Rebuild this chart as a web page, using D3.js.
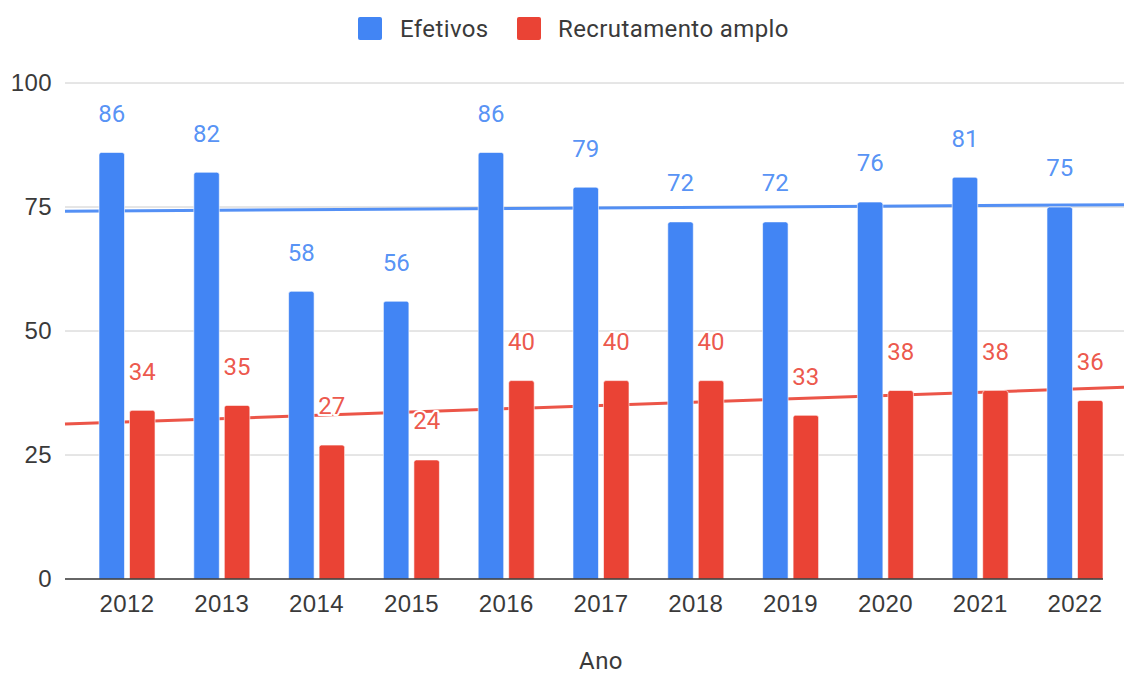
<!DOCTYPE html>
<html>
<head>
<meta charset="utf-8">
<script src="https://cdn.jsdelivr.net/npm/d3@7"></script>
<style>
  html, body { margin: 0; padding: 0; background: #fff; }
  svg { display: block; font-family: Roboto, "Noto Sans", sans-serif; }
  .tick-label { fill: #3a3a3a; font-size: 24px; letter-spacing: 0.4px; }
  .bar-label { font-size: 24px; paint-order: stroke; stroke: #fff; stroke-width: 4px; stroke-linejoin: round; }
</style>
</head>
<body>
<div id="chart"></div>
<script>
// Efetivos vs Recrutamento amplo, por ano
const years = ['2012', '2013', '2014', '2015', '2016', '2017', '2018', '2019', '2020', '2021', '2022'];
const efetivos = [86, 82, 58, 56, 86, 79, 72, 72, 76, 81, 75];
const recrutamento = [34, 35, 27, 24, 40, 40, 40, 33, 38, 38, 36];
const seriesNames = ['Efetivos', 'Recrutamento amplo'];
const seriesColors = ['#4285f4', '#ea4335'];
const yTicks = [0, 25, 50, 75, 100];

const W = 1124, H = 677;
const plotL = 65, plotR = 1124;
const barsL = 99, barsR = 1103;
const yTop = 83, yBottom = 579;

const svg = d3.select('#chart').append('svg')
    .attr('width', W).attr('height', H)
    .attr('viewBox', `0 0 ${W} ${H}`);

const x0 = d3.scaleBand().domain(years).range([barsL, barsR])
    .paddingInner(0.409).paddingOuter(0);
const x1 = d3.scaleBand().domain(seriesNames).range([0, x0.bandwidth()])
    .paddingInner(0.164);
const y = d3.scaleLinear().domain([0, 100]).range([yBottom, yTop]);

// gridlines
svg.append('g').selectAll('line')
    .data(yTicks.filter(t => t > 0))
    .enter().append('line')
    .attr('x1', plotL).attr('x2', plotR)
    .attr('y1', d => y(d)).attr('y2', d => y(d))
    .attr('stroke', '#cccccc').attr('stroke-width', 1);

// y axis labels
const yAxis = svg.append('g')
    .attr('transform', `translate(${plotL},0)`)
    .call(d3.axisLeft(y).tickValues(yTicks).tickSize(0).tickPadding(13));
yAxis.select('.domain').remove();
yAxis.selectAll('text').attr('class', 'tick-label').attr('font-family', null).attr('font-size', null).attr('fill', null);

// trendlines (linear regression on the data)
function trend(vals) {
    const n = vals.length;
    const xs = d3.range(n);
    const mx = d3.mean(xs), my = d3.mean(vals);
    const slope = d3.sum(xs, i => (i - mx) * (vals[i] - my)) / d3.sum(xs, i => (i - mx) * (i - mx));
    return i => my + slope * (i - mx);
}
const idxToPx = d3.scaleLinear().domain([0, years.length - 1])
    .range([x0(years[0]) + x0.bandwidth() / 2, x0(years[years.length - 1]) + x0.bandwidth() / 2]);

const allSeries = [efetivos, recrutamento];
const trendG = svg.append('g');
allSeries.forEach((vals, s) => {
    const f = trend(vals);
    const i0 = idxToPx.invert(plotL), i1 = idxToPx.invert(plotR);
    trendG.append('line')
        .attr('x1', plotL).attr('y1', y(f(i0)))
        .attr('x2', plotR).attr('y2', y(f(i1)))
        .attr('stroke', seriesColors[s])
        .attr('stroke-width', 3)
        .attr('opacity', 0.9);
});

// bars with rounded top corners
function barPath(x, yt, w, yb, r) {
    r = Math.min(r, (yb - yt));
    return `M${x},${yb}V${yt + r}Q${x},${yt} ${x + r},${yt}H${x + w - r}Q${x + w},${yt} ${x + w},${yt + r}V${yb}Z`;
}

const groups = svg.append('g').selectAll('g')
    .data(years)
    .enter().append('g')
    .attr('transform', d => `translate(${x0(d)},0)`);

groups.selectAll('path')
    .data((d, i) => seriesNames.map((name, s) => ({ name, s, v: allSeries[s][i] })))
    .enter().append('path')
    .attr('d', d => barPath(x1(d.name), y(d.v), x1.bandwidth(), y(0), 2.5))
    .attr('fill', d => seriesColors[d.s])
    .attr('stroke', '#fff').attr('stroke-opacity', 0.6).attr('stroke-width', 1);

// baseline
svg.append('line')
    .attr('x1', plotL).attr('x2', barsR)
    .attr('y1', y(0)).attr('y2', y(0))
    .attr('stroke', '#333').attr('stroke-width', 1.5);

// value labels
groups.selectAll('text')
    .data((d, i) => seriesNames.map((name, s) => ({ name, s, v: allSeries[s][i] })))
    .enter().append('text')
    .attr('class', 'bar-label')
    .attr('x', d => x1(d.name) + x1.bandwidth() / 2)
    .attr('y', d => y(d.v) - 39)
    .attr('dy', '0.35em')
    .attr('text-anchor', 'middle')
    .attr('fill', d => seriesColors[d.s])
    .attr('fill-opacity', 0.9)
    .text(d => d.v);

// x axis labels
const xAxis = svg.append('g')
    .attr('transform', `translate(0,${y(0)})`)
    .call(d3.axisBottom(x0).tickSize(0).tickPadding(16));
xAxis.select('.domain').remove();
xAxis.selectAll('text').attr('class', 'tick-label').attr('font-family', null).attr('font-size', null).attr('fill', null);

// axis title
svg.append('text')
    .attr('class', 'tick-label')
    .attr('x', (x0.range()[0] + x0.range()[1]) / 2)
    .attr('y', 661)
    .attr('dy', '0.35em')
    .attr('text-anchor', 'middle')
    .text('Ano');

// legend
const legend = svg.append('g');
const legendItems = [{ x: 358, tx: 400 }, { x: 517, tx: 558 }];
seriesNames.forEach((name, s) => {
    legend.append('rect')
        .attr('x', legendItems[s].x).attr('y', 17)
        .attr('width', 24).attr('height', 23)
        .attr('rx', 2)
        .attr('fill', seriesColors[s]);
    legend.append('text')
        .attr('class', 'tick-label')
        .attr('x', legendItems[s].tx).attr('y', 29)
        .attr('dy', '0.35em')
        .text(name);
});
</script>
</body>
</html>
